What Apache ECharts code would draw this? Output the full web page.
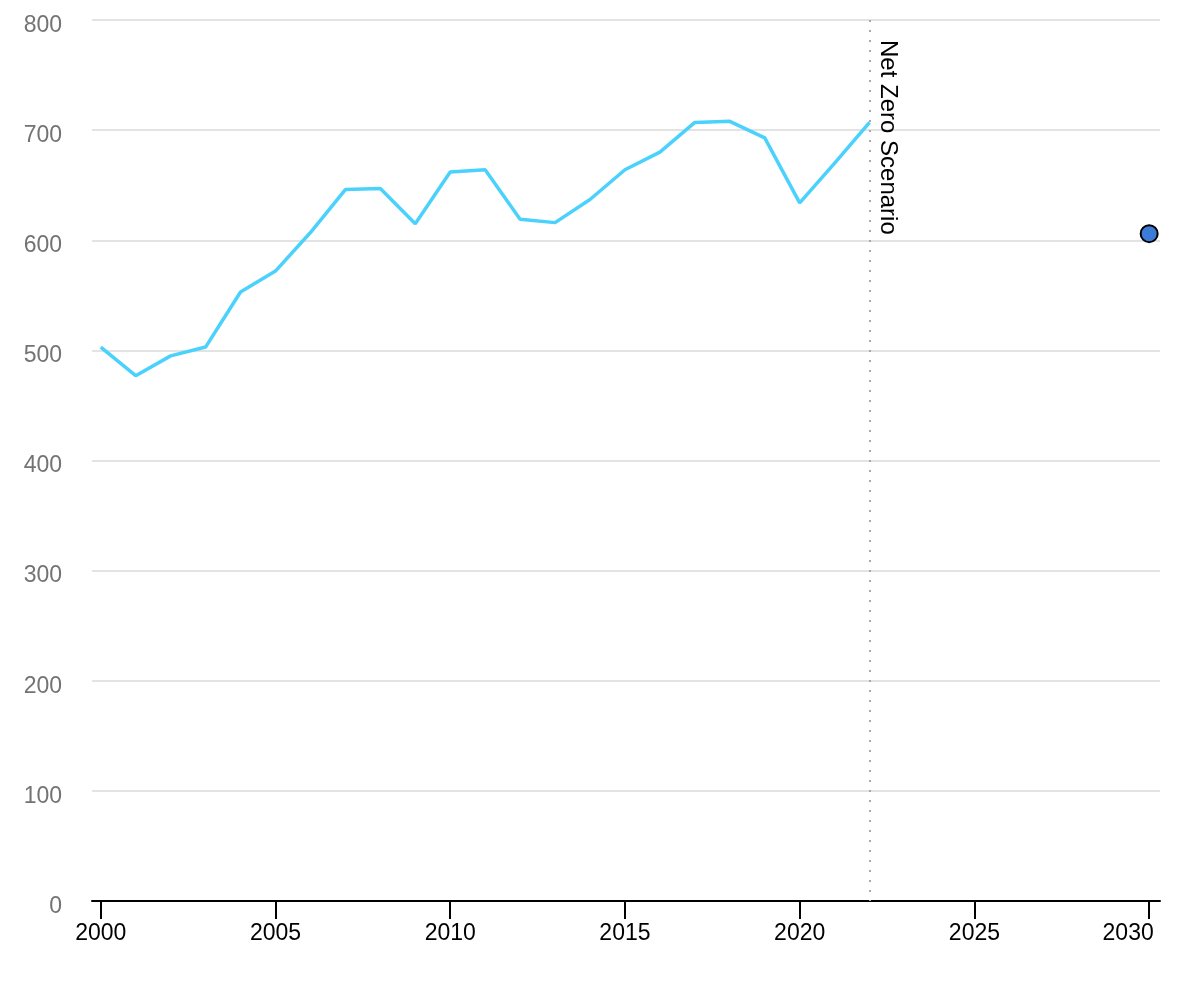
<!DOCTYPE html>
<html lang="en">
<head>
    <meta charset="UTF-8"/>
    <title>Net Zero Scenario</title>
    <script src="https://cdn.jsdelivr.net/npm/echarts@6/dist/echarts.min.js"></script>
    <style>
        html, body { margin: 0; padding: 0; background: #fff; }
    </style>
</head>
<body>

<div id="main" style="width: 1200px;height:1000px;"></div>

<script type="text/javascript">
    // data
    var years = [2000, 2001, 2002, 2003, 2004, 2005, 2006, 2007, 2008, 2009, 2010,
        2011, 2012, 2013, 2014, 2015, 2016, 2017, 2018, 2019, 2020, 2021, 2022];
    var emissions = [503, 477, 495, 503, 553, 572, 607, 646, 647, 615, 662,
        664, 619, 616, 637, 664, 680, 707, 708, 693, 634, 670, 707];
    var targetYear = [2030];
    var targetValue = [606];
    var markerYear = 2022;
    var markerLabel = 'Net Zero Scenario';
    var xTicks = [2000, 2005, 2010, 2015, 2020, 2025, 2030];

    var lineData = [];
    for (var i = 0; i < years.length; i++) {
        lineData.push([years[i], emissions[i]]);
    }
    var dotData = [];
    for (var j = 0; j < targetYear.length; j++) {
        dotData.push([targetYear[j], targetValue[j]]);
    }

    var myChart = echarts.init(document.getElementById('main'));

    var font = 'Liberation Sans, Arial, Helvetica, sans-serif';
    var lastTick = xTicks[xTicks.length - 1];

    var option = {
        animation: false,
        textStyle: {fontFamily: font},
        grid: {left: 92, right: 40, top: 20, bottom: 99, containLabel: false},
        xAxis: {
            type: 'value',
            min: 1999.75,
            max: 2030.31,
            splitLine: {show: false},
            axisLine: {show: true, lineStyle: {color: '#000', width: 2}},
            axisTick: {
                show: true,
                length: 18,
                customValues: xTicks,
                lineStyle: {color: '#000', width: 2}
            },
            axisLabel: {
                customValues: xTicks,
                color: '#000',
                fontSize: 23,
                margin: 21,
                fontFamily: font,
                // last label is pulled left so it stays inside the chart
                formatter: function (v) {
                    return v === lastTick ? '{last|' + v + '}' : String(v);
                },
                rich: {
                    last: {
                        color: '#000',
                        fontSize: 23,
                        fontFamily: font,
                        padding: [0, 42, 0, 0]
                    }
                }
            }
        },
        yAxis: {
            type: 'value',
            min: 0,
            max: 800,
            interval: 100,
            axisLine: {show: false},
            axisTick: {show: false},
            axisLabel: {
                margin: 30,
                formatter: '{v|{value}}',
                rich: {
                    v: {
                        color: '#737373',
                        fontSize: 23,
                        fontFamily: font,
                        padding: [11, 0, 0, 0]
                    }
                }
            },
            splitLine: {lineStyle: {color: '#e3e3e3', width: 2}}
        },
        series: [
            {
                name: 'history',
                type: 'line',
                data: lineData,
                showSymbol: false,
                symbol: 'none',
                lineStyle: {color: '#4ad2fd', width: 3.5},
                markLine: {
                    silent: true,
                    symbol: 'none',
                    lineStyle: {color: '#aaa', width: 2, type: [2, 8]},
                    label: {
                        show: true,
                        position: 'insideStartTop',
                        formatter: markerLabel,
                        color: '#000',
                        fontSize: 24,
                        fontFamily: font,
                        distance: [20, 6]
                    },
                    data: [
                        [{coord: [markerYear, 800]}, {coord: [markerYear, 0]}]
                    ]
                }
            },
            {
                name: 'target',
                type: 'scatter',
                data: dotData,
                symbol: 'circle',
                symbolSize: 17,
                itemStyle: {color: '#3d7bd8', borderColor: '#000', borderWidth: 2, opacity: 1}
            }
        ]
    };

    myChart.setOption(option);
</script>
</body>
</html>
